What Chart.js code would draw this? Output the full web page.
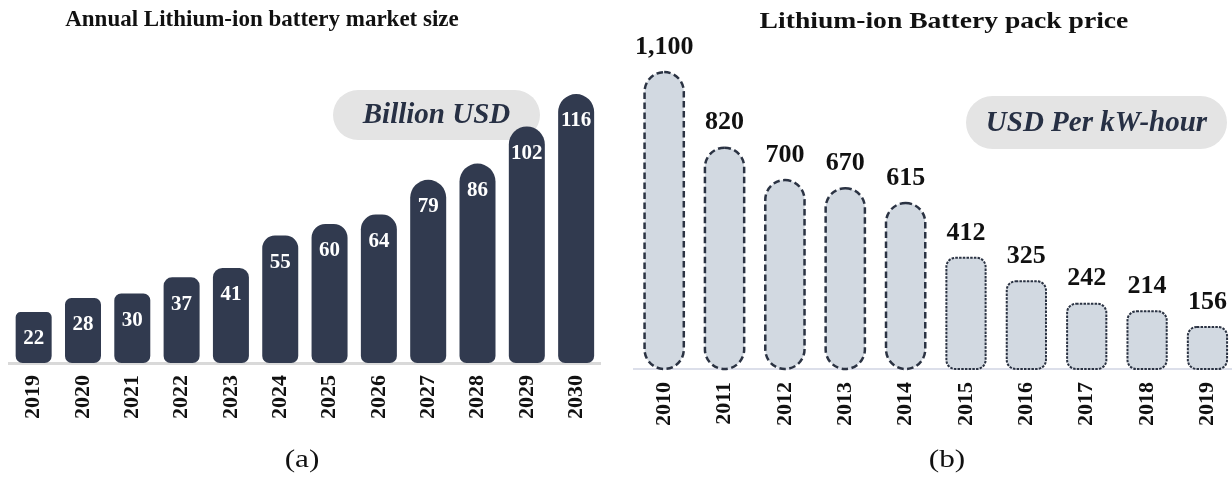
<!DOCTYPE html>
<html lang="en">
<head>
  <meta charset="UTF-8">
  <title>Lithium-ion battery market and pack price</title>
  <script src="https://cdn.jsdelivr.net/npm/chart.js"></script>
  <style>
    body {margin: 0; background: #ffffff; overflow: hidden; width: 1232px; height: 477px; position: relative; font-family: 'Liberation Serif', 'Times New Roman', serif;}
    .panel {position: absolute; top: 0; height: 477px;}
    #panelA {left: 0; width: 615px;}
    #panelB {left: 620px; width: 627px;}
    .title {position: absolute; font-weight: bold; color: #111; white-space: nowrap; line-height: 1;}
    #titleA {left: 262px; top: 7px; font-size: 23px; transform: translateX(-50%);}
    #titleB {left: 944px; top: 9px; font-size: 23px; transform: translateX(-50%) scaleX(1.2);}
    .sub {position: absolute; top: 446px; font-size: 25px; line-height: 1; color: #111; transform: translateX(-50%) scaleX(1.25);}
    #subA {left: 302px;}
    #subB {left: 947px;}
  </style>
</head>
<body>
  <div class="panel" id="panelA"><canvas id="chartA"></canvas></div>
  <div class="panel" id="panelB"><canvas id="chartB"></canvas></div>
  <div class="title" id="titleA">Annual Lithium-ion battery market size</div>
  <div class="title" id="titleB">Lithium-ion Battery pack price</div>
  <div class="sub" id="subA">(a)</div>
  <div class="sub" id="subB">(b)</div>
  <script>
    // panel (a): market size, billion USD
    const marketYears = ['2019','2020','2021','2022','2023','2024','2025','2026','2027','2028','2029','2030'];
    const marketSize = [22, 28, 30, 37, 41, 55, 60, 64, 79, 86, 102, 116];
    const marketUnit = 'Billion USD';

    // panel (b): pack price, USD per kWh
    const priceYears = ['2010','2011','2012','2013','2014','2015','2016','2017','2018','2019'];
    const packPrice = [1100, 820, 700, 670, 615, 412, 325, 242, 214, 156];
    const priceUnit = 'USD Per kW-hour';

    const serif = "'Liberation Serif', 'Times New Roman', serif";
    const navy = '#313a4f';

    function pillPlugin(id, box, text, size) {
      return {
        id: id,
        beforeDatasetsDraw(chart) {
          const ctx = chart.ctx;
          ctx.save();
          ctx.fillStyle = '#e4e4e4';
          ctx.beginPath();
          ctx.roundRect(box.x, box.y, box.w, box.h, box.h / 2);
          ctx.fill();
          ctx.fillStyle = '#273044';
          ctx.font = `italic bold ${size}px ${serif}`;
          ctx.textAlign = 'center';
          ctx.textBaseline = 'middle';
          ctx.fillText(text, box.x + box.w / 2, box.y + box.h / 2 + 1);
          ctx.restore();
        }
      };
    }

    const valuesInside = {
      id: 'valuesInside',
      afterDatasetsDraw(chart) {
        const ctx = chart.ctx;
        const meta = chart.getDatasetMeta(0);
        ctx.save();
        ctx.fillStyle = '#ffffff';
        ctx.font = `bold 21px ${serif}`;
        ctx.textAlign = 'center';
        ctx.textBaseline = 'middle';
        meta.data.forEach((bar, i) => {
          ctx.fillText(String(marketSize[i]), bar.x, bar.y + 27);
        });
        ctx.restore();
      }
    };

    function priceRadius(i, w) {
      return i < 5 ? w / 2 : 9;
    }

    const dashedBars = {
      id: 'dashedBars',
      afterDatasetsDraw(chart) {
        const ctx = chart.ctx;
        const meta = chart.getDatasetMeta(0);
        ctx.save();
        ctx.strokeStyle = '#2b3343';
        meta.data.forEach((bar, i) => {
          const p = bar.getProps(['x', 'y', 'base', 'width'], true);
          const w = p.width, h = p.base - p.y;
          const r = Math.min(priceRadius(i, w), w / 2, h / 2);
          if (i < 5) { ctx.lineWidth = 2.5; ctx.setLineDash([6.5, 3.5]); }
          else { ctx.lineWidth = 2; ctx.setLineDash([2.5, 1.2]); }
          ctx.beginPath();
          ctx.roundRect(p.x - w / 2, p.y, w, h, r);
          ctx.stroke();
        });
        ctx.setLineDash([]);
        ctx.fillStyle = '#111111';
        ctx.font = `bold 26px ${serif}`;
        ctx.textAlign = 'center';
        ctx.textBaseline = 'middle';
        meta.data.forEach((bar, i) => {
          ctx.fillText(packPrice[i].toLocaleString('en-US'), bar.x, bar.y - 25);
        });
        ctx.restore();
      }
    };

    const xTicks = {
      color: '#111111',
      font: {family: serif, size: 22, weight: 'bold'},
      minRotation: 90,
      maxRotation: 90,
      autoSkip: false,
      padding: 12
    };

    new Chart(document.getElementById('chartA'), {
      type: 'bar',
      data: {
        labels: marketYears,
        datasets: [{
          data: marketSize,
          backgroundColor: navy,
          borderWidth: 0,
          categoryPercentage: 1,
          barPercentage: 0.73,
          borderSkipped: false,
          borderRadius: c => {
            const top = Math.min(18, c.raw * 0.23);
            return {topLeft: top, topRight: top, bottomLeft: 7, bottomRight: 7};
          }
        }]
      },
      options: {
        responsive: true,
        maintainAspectRatio: false,
        animation: false,
        layout: {padding: {top: 40, left: 9, right: 11, bottom: 46}},
        plugins: {legend: {display: false}, tooltip: {enabled: false}},
        scales: {
          x: {
            grid: {display: false, drawTicks: false},
            border: {display: true, color: '#d9d9d9', width: 3},
            ticks: xTicks
          },
          y: {display: false, min: 0, max: 139.3}
        }
      },
      plugins: [pillPlugin('pillA', {x: 333, y: 90, w: 207, h: 50}, marketUnit, 29), valuesInside]
    });

    new Chart(document.getElementById('chartB'), {
      type: 'bar',
      data: {
        labels: priceYears,
        datasets: [{
          data: packPrice,
          backgroundColor: '#d2d9e1',
          borderWidth: 0,
          categoryPercentage: 1,
          barPercentage: 0.65,
          borderSkipped: false,
          borderRadius: c => priceRadius(c.dataIndex, 40)
        }]
      },
      options: {
        responsive: true,
        maintainAspectRatio: false,
        animation: false,
        layout: {padding: {top: 40, left: 14, right: 3, bottom: 38}},
        plugins: {legend: {display: false}, tooltip: {enabled: false}},
        scales: {
          x: {
            grid: {display: false, drawTicks: false},
            border: {display: true, color: '#dcdfea', width: 2},
            ticks: Object.assign({}, xTicks, {padding: 13})
          },
          y: {display: false, min: 0, max: 1219}
        }
      },
      plugins: [pillPlugin('pillB', {x: 346, y: 96, w: 261, h: 53}, priceUnit, 29), dashedBars]
    });
  </script>
</body>
</html>
